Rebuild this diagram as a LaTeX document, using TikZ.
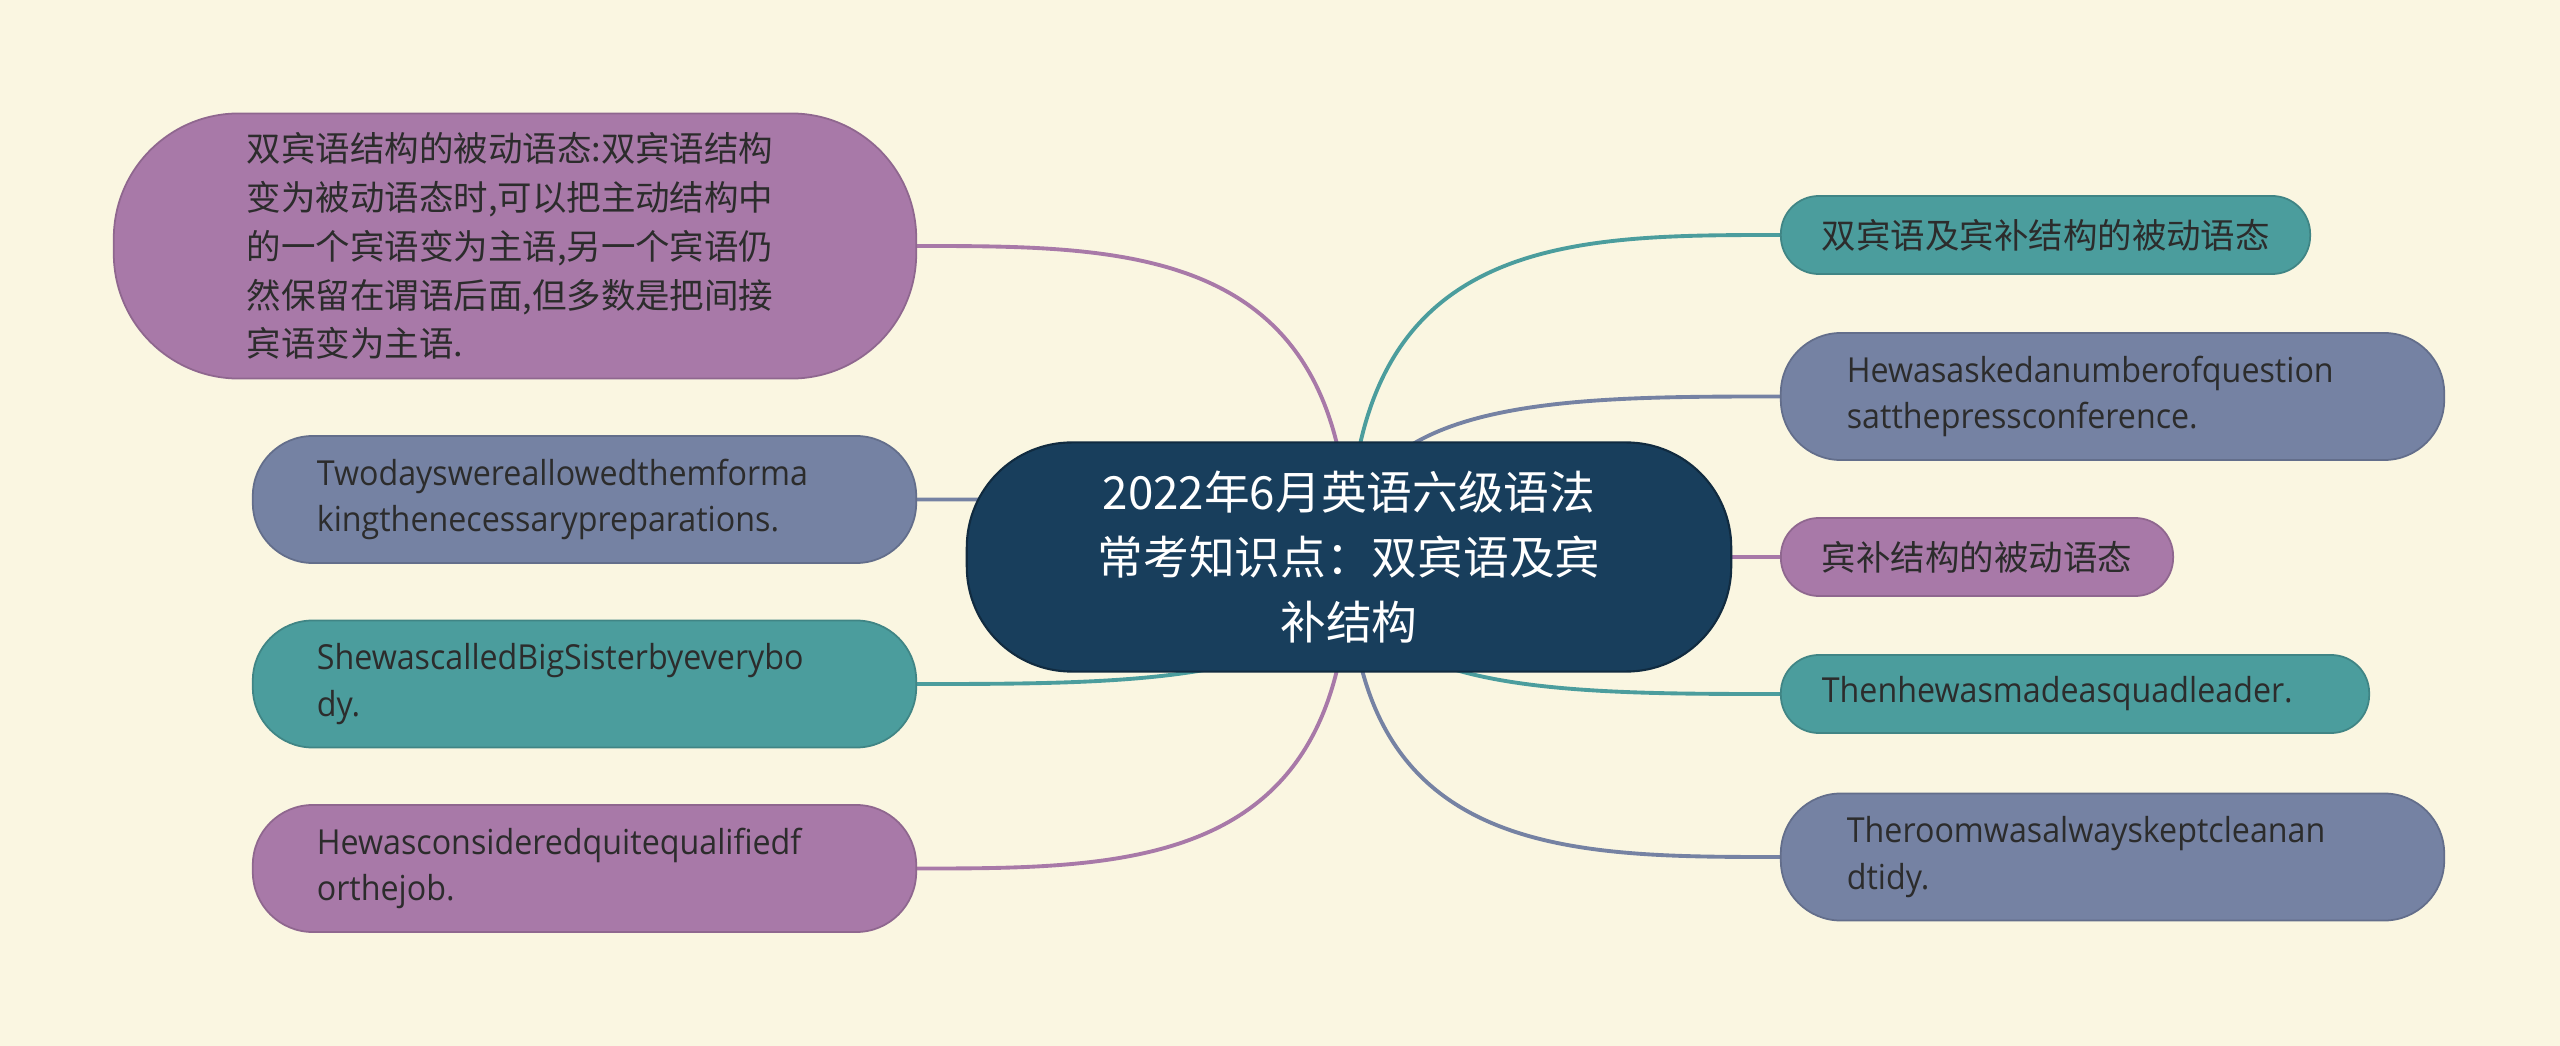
\documentclass[tikz,border=0pt]{standalone}
\usepackage{fontspec}
\setmainfont[FakeStretch=0.935]{Open Sans}
\newfontfamily\cjk{Noto Sans CJK SC}
\usetikzlibrary{calc}
\usetikzlibrary{backgrounds}
\hyphenpenalty=10000
\exhyphenpenalty=10000

\definecolor{paper}{HTML}{FAF6E1}
\definecolor{navy}{HTML}{183E5C}
\definecolor{plum}{HTML}{A879A8}
\definecolor{slate}{HTML}{7582A3}
\definecolor{teal}{HTML}{4B9D9D}
\definecolor{ink}{HTML}{2C2C2C}

\tikzset{topic/.style={rectangle, rounded corners=1.05cm, fill=navy, draw=navy!70!black, line width=0.6pt, text=white, align=center, font=\cjk\fontsize{13}{18.4}\selectfont, minimum width=7.64cm, minimum height=2.29cm}}
\tikzset{leaf/.style={rectangle, line width=0.5pt, text=ink, align=left, inner ysep=0pt, font=\fontsize{9.8}{13.2}\selectfont}}
\tikzset{slim/.style={leaf, minimum height=0.78cm, rounded corners=0.38cm, inner xsep=0.41cm}}
\tikzset{wide/.style={leaf, minimum height=1.27cm, rounded corners=0.6cm}}
\tikzset{plumbox/.style={fill=plum, draw=plum!85!black}}
\tikzset{slatebox/.style={fill=slate, draw=slate!85!black}}
\tikzset{tealbox/.style={fill=teal, draw=teal!85!black}}
\tikzset{branch/.style={line width=1.1pt, to path={.. controls (\tikztostart |- \tikztotarget) and ($(\tikztotarget)!0.5!(\tikztotarget -| \tikztostart)$) .. (\tikztotarget)}}}

\begin{document}
\begin{tikzpicture}[x=0.01cm, y=-0.01cm]
    \useasboundingbox (0,0) rectangle (2560,1046);

    % central topic
    \node[topic] (c) at (1349,557) {2022年6月英语六级语法\\常考知识点：双宾语及宾\\补结构};

    % left branches
    \node[wide, plumbox, minimum height=2.65cm, rounded corners=1.25cm, text width=5.36cm, inner xsep=1.33cm, font=\cjk\fontsize{9.8}{13.9}\selectfont] (l1) at (515,246)
        {双宾语结构的被动语态:双宾语结构\\变为被动语态时,可以把主动结构中\\的一个宾语变为主语,另一个宾语仍\\然保留在谓语后面,但多数是把间接\\宾语变为主语.};
    \node[wide, slatebox, text width=5.35cm, inner xsep=0.64cm] (l2) at (584.5,499.5)
        {Twodayswereallowedthemforma\\kingthenecessarypreparations.};
    \node[wide, tealbox, text width=5.35cm, inner xsep=0.64cm] (l3) at (584.5,684)
        {ShewascalledBigSisterbyeverybo\\dy.};
    \node[wide, plumbox, text width=5.35cm, inner xsep=0.64cm] (l4) at (584.5,868.5)
        {Hewasconsideredquitequalifiedf\\orthejob.};

    % right branches
    \node[slim, tealbox, text width=4.47cm, font=\cjk\fontsize{9.8}{13.2}\selectfont] (r1) at (2045.5,235)
        {双宾语及宾补结构的被动语态};
    \node[wide, slatebox, text width=5.31cm, inner xsep=0.66cm] (r2) at (2112.5,396.5)
        {Hewasaskedanumberofquestion\\satthepressconference.};
    \node[slim, plumbox, text width=3.1cm, font=\cjk\fontsize{9.8}{13.2}\selectfont] (r3) at (1977,557)
        {宾补结构的被动语态};
    \node[slim, tealbox, text width=5.06cm] (r4) at (2075,694)
        {Thenhewasmadeasquadleader.};
    \node[wide, slatebox, text width=5.31cm, inner xsep=0.66cm] (r5) at (2112.5,857)
        {Theroomwasalwayskeptcleanan\\dtidy.};

    \begin{pgfonlayer}{background}
        \fill[paper] (0,0) rectangle (2560,1046);
        \draw[branch, plum] (c.center) to (l1.east);
        \draw[branch, slate] (c.center) to (l2.east);
        \draw[branch, teal] (c.center) to (l3.east);
        \draw[branch, plum] (c.center) to (l4.east);
        \draw[branch, teal] (c.center) to (r1.west);
        \draw[branch, slate] (c.center) to (r2.west);
        \draw[branch, plum] (c.center) to (r3.west);
        \draw[branch, teal] (c.center) to (r4.west);
        \draw[branch, slate] (c.center) to (r5.west);
    \end{pgfonlayer}
\end{tikzpicture}
\end{document}
